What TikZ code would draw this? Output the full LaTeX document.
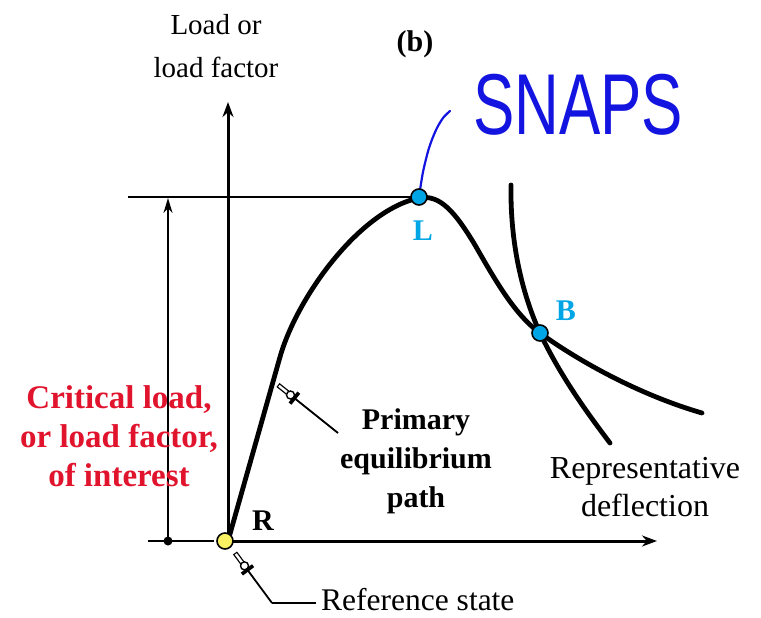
\documentclass[tikz,border=0pt]{standalone}
\usepackage{fontspec}
\setmainfont{Liberation Serif}
\newfontfamily\snapfont{Liberation Sans}
\usetikzlibrary{arrows.meta,calc}
\definecolor{ptcyan}{RGB}{0,165,230}
\definecolor{critred}{RGB}{225,20,45}
\definecolor{penblue}{RGB}{20,20,225}
\definecolor{refyellow}{RGB}{250,240,100}
\tikzset{
  axis/.style={line width=3pt,-{Stealth[length=15pt,width=11pt]}},
  pathline/.style={line width=4.8pt,line cap=round,line join=round},
  thinline/.style={line width=2pt},
  ptnode/.style={circle,draw=black,line width=1.6pt,minimum size=16pt,inner sep=0pt},
  lbl/.style={font=\fontsize{32}{38}\selectfont,align=center,inner sep=0pt},
  blbl/.style={font=\fontsize{30}{38}\selectfont\bfseries,align=center,inner sep=0pt},
}
\newcommand{\handleader}[2]{%
  \draw[line width=1.8pt] ($(#1)!22pt!(#2)$) -- (#2);
  \draw[line width=5pt] (#1) -- ($(#1)!15pt!(#2)$);
  \draw[line width=2.4pt,white] ($(#1)!1.2pt!(#2)$) -- ($(#1)!13pt!(#2)$);
  \draw[line width=1.4pt,fill=white] ($(#1)!16pt!(#2)$) circle (4pt);
  \draw[line width=3.6pt] ($($(#1)!21pt!(#2)$)!7pt!90:(#2)$) -- ($($(#1)!21pt!(#2)$)!7pt!-90:(#2)$);
}
\begin{document}
\begin{tikzpicture}[x=1pt,y=-1pt]
\useasboundingbox (0,0) rectangle (761,618);
% coordinates
\coordinate (O) at (228,541);
\coordinate (Ytop) at (228,102);
\coordinate (Xend) at (657,541);
\coordinate (Lp) at (419,197);
\coordinate (Bp) at (540,333);
\coordinate (Rp) at (225,541);
\coordinate (hl) at (128,197);
\coordinate (crL) at (148,541);
\coordinate (crR) at (214,541);
\coordinate (crD) at (168,541);
\coordinate (crT) at (168,198);
% axes
\draw[axis] (O) -- (Ytop);
\draw[axis] (O) -- (Xend);
\draw[thinline] (hl) -- (Lp);
\draw[thinline] (crL) -- (crR);
\draw[thinline,-{Stealth[length=15pt,width=9pt]}] (crD) -- (crT);
\fill (crD) circle (4.5pt);
% primary path
\draw[pathline] (228,541) -- (280,357) .. controls (297,297) and (360,210) .. (419,198)
  .. controls (440,194) and (455,212) .. (475,245)
  .. controls (495,280) and (515,315) .. (540,333)
  .. controls (580,362) and (640,395) .. (702,413);
% secondary path
\draw[pathline] (511,185) .. controls (510,250) and (525,300) .. (540,333)
  .. controls (560,375) and (585,410) .. (610,443);
% SNAPS annotation
\draw[penblue,line width=2.2pt,line cap=round] plot[smooth,tension=0.5] coordinates {(419,197) (423,172) (429,148) (436,130) (443,118) (450,111)};
\node[penblue,inner sep=0pt,font=\snapfont\fontsize{72}{72}\selectfont,xscale=0.86,yscale=1.2] (snaps) at (578,105) {SNAPS};
% points
\node[ptnode,fill=ptcyan] (L) at (Lp) {};
\node[ptnode,fill=ptcyan] (B) at (Bp) {};
\node[ptnode,fill=refyellow] (R) at (Rp) {};
\node[blbl,text=ptcyan] (Llab) at (423,231) {L};
\node[blbl,text=ptcyan] (Blab) at (566,311) {B};
\node[blbl] (Rlab) at (263,521) {R};
% texts
\node[lbl,font=\fontsize{29}{43}\selectfont] (ylab) at (216,46) {Load or\\load factor};
\node[blbl] (b) at (415,44) {(b)};
\node[blbl,text=critred,font=\fontsize{33}{39}\selectfont\bfseries] (crit) at (119,436) {Critical load,\\or load factor,\\of interest};
\node[blbl,font=\fontsize{30}{39}\selectfont\bfseries] (prim) at (416,461) {Primary\\equilibrium\\path};
\node[lbl] (rep) at (645,487) {Representative\\deflection};
\node[lbl,anchor=west,font=\fontsize{31.5}{38}\selectfont] (ref) at (321,600) {Reference state};
% leaders
\coordinate (pt1) at (278,385);
\coordinate (pe1) at (338,433);
\handleader{pt1}{pe1}
\coordinate (pt2) at (235,553);
\coordinate (bend2) at (272,603);
\coordinate (pe2) at (316,603);
\handleader{pt2}{bend2}
\draw[line width=1.8pt] (bend2) -- (pe2);
\end{tikzpicture}
\end{document}
